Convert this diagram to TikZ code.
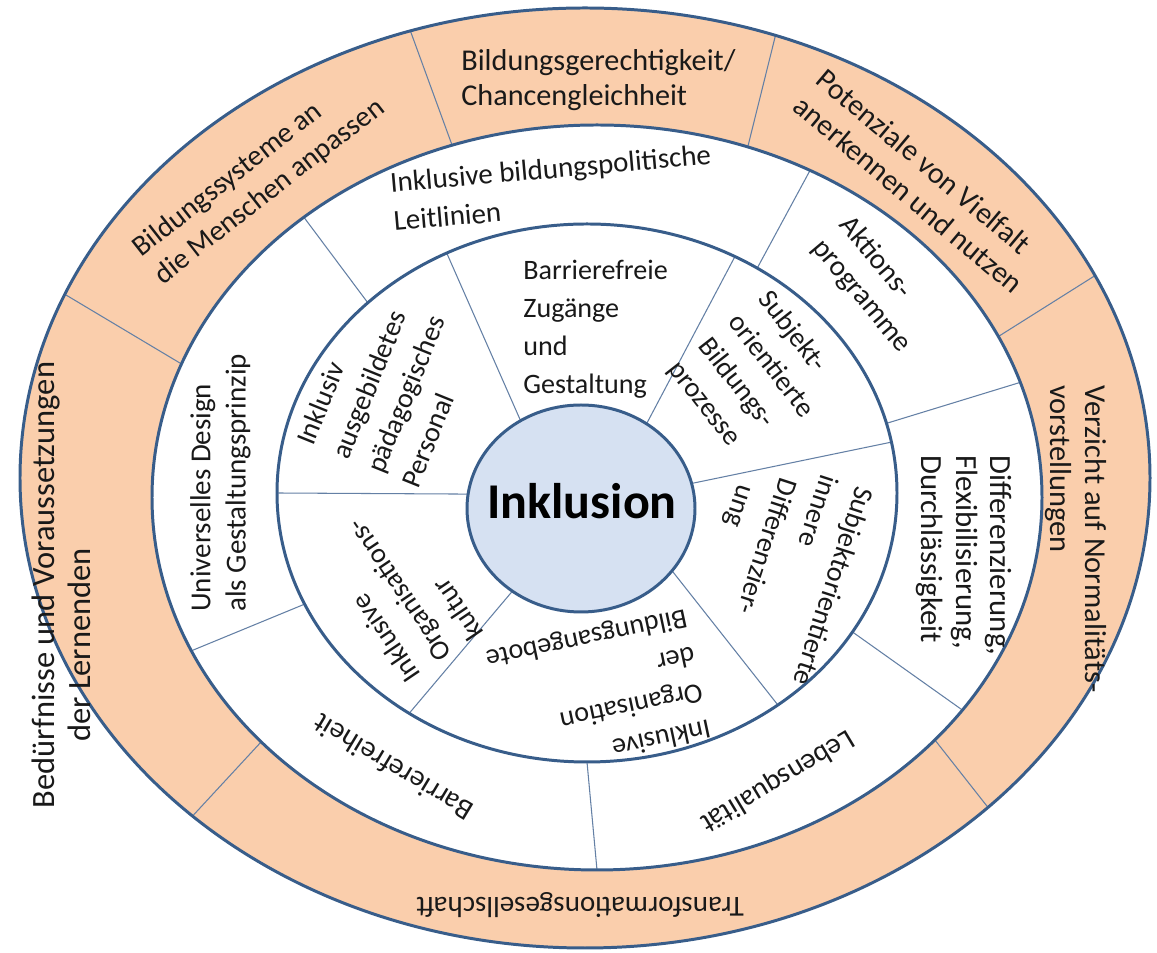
\documentclass[tikz,border=0pt]{standalone}
\usepackage{fontspec}
\setmainfont{Carlito}
\usetikzlibrary{calc}
\definecolor{peach}{RGB}{250,206,172}
\definecolor{rim}{RGB}{56,93,138}
\definecolor{spokec}{RGB}{100,128,165}
\definecolor{core}{RGB}{214,225,242}
\tikzset{
  rimline/.style={draw=rim, line width=1.7pt},
  spoke/.style={draw=spokec, line width=0.6pt},
  lbl/.style={inner sep=0pt, text=black!90, font=\fontsize{16.5}{20}\selectfont},
  inlbl/.style={lbl, font=\fontsize{16}{21.5}\selectfont},
}
\begin{document}
\begin{tikzpicture}[x=0.02cm, y=0.02cm]
	\useasboundingbox (0,0) rectangle (1157,953);
	% --- centres of the rings ---
	\coordinate (cA) at (585,475);
	\coordinate (cB) at (597,455.5);
	\coordinate (cC) at (587,460);
	\coordinate (cD) at (581,444.5);

	% --- outer ring ---
	\fill[peach] (cA) ellipse [x radius=565, y radius=470];
	\fill[white] (cB) ellipse [x radius=445, y radius=372.5];
	\foreach \a/\b in {157/159, 108/109, 70.3/70.2, 25.5/25.6, -44.5/-40.6, -134/-139}
		\draw[spoke] ($(cA)+(\a:565 and 470)$) -- ($(cB)+(\b:445 and 372.5)$);

	% --- middle ring ---
	\foreach \a/\b in {131.2/135, 61.4/56.7, 18/15, -34.8/-31.1, -90/-90, -155.7/-155.6}
		\draw[spoke] ($(cB)+(\a:445 and 372.5)$) -- ($(cC)+(\b:310 and 269)$);

	% --- inner ring ---
	\fill[core] (cD) ellipse [x radius=114, y radius=103.5];
	\foreach \a/\b in {116.9/122, 61.5/54.9, 10.9/14, -52/-37, -125/-127, 180/172}
		\draw[spoke] ($(cC)+(\a:310 and 269)$) -- ($(cD)+(\b:114 and 103.5)$);

	% --- borders ---
	\draw[rimline] (cA) ellipse [x radius=565, y radius=470];
	\draw[rimline] (cB) ellipse [x radius=445, y radius=372.5];
	\draw[rimline] (cC) ellipse [x radius=310, y radius=269];
	\draw[rimline] (cD) ellipse [x radius=114, y radius=103.5];

	% --- labels, outer ring ---
	\node[lbl, rotate=38, align=left] (sysm) at (259,775) {Bildungssysteme an\\die Menschen anpassen};
	\node[lbl, anchor=west, align=left, font=\fontsize{17.2}{20}\selectfont] (gerech) at (461,873) {Bildungsgerechtigkeit/\\Chancengleichheit};
	\node[lbl, rotate=-40, align=left, font=\fontsize{17}{20}\selectfont] (vielf) at (920,772) {Potenziale von Vielfalt\\anerkennen und nutzen};
	\node[lbl, rotate=-90, anchor=north west, align=left, font=\fontsize{17.3}{20}\selectfont] (normal) at (1107,568) {Verzicht auf Normalitäts-\\vorstellungen};
	\node[lbl, rotate=180] (transf) at (580,48) {Transformationsgesellschaft};
	\node[lbl, rotate=90, font=\fontsize{18.5}{22}\selectfont] (beduerf) at (46,368) {Bedürfnisse und Voraussetzungen};
	\node[lbl, rotate=90, font=\fontsize{18.5}{22}\selectfont] (lernend) at (79,308) {der Lernenden};

	% --- labels, middle ring ---
	\node[lbl, rotate=5, anchor=north west, align=left, font=\fontsize{16.5}{22}\selectfont] (leitl) at (389,781) {Inklusive bildungspolitische\\Leitlinien};
	\node[lbl, rotate=-50, align=left] (aktion) at (875,668) {Aktions-\\programme};
	\node[lbl, rotate=-90, anchor=north west, align=left, font=\fontsize{17.5}{19.5}\selectfont] (diffz) at (1012,498) {Differenzierung,\\Flexibilisierung,\\Durchlässigkeit};
	\node[lbl, rotate=-149] (lebqu) at (777,172) {Lebensqualität};
	\node[lbl, rotate=149] (barrf) at (393,185) {Barrierefreiheit};
	\node[lbl, rotate=90, anchor=north west, align=left] (unides) at (190,341) {Universelles Design\\als Gestaltungsprinzip};

	% --- labels, inner ring ---
	\node[inlbl, anchor=north west, align=left] (zugang) at (523,693) {Barrierefreie\\Zugänge\\und\\Gestaltung};
	\node[inlbl, rotate=68, align=left] (person) at (388,566) {Inklusiv\\ausgebildetes\\pädagogisches\\Personal};
	\node[inlbl, rotate=-52, align=left] (bildpr) at (756,575) {Subjekt-\\orientierte\\Bildungs-\\prozesse};
	\node[inlbl, rotate=-108, anchor=north west, align=left] (innere) at (876,462) {Subjektorientierte\\innere\\\hspace*{9pt}Differenzier-\\\hspace*{20pt}ung};
	\node[inlbl, rotate=192, align=left] (orgbild) at (598,260) {Inklusive\\Organisation\\der\\Bildungsangebote};
	\node[inlbl, rotate=124, align=left] (orgkult) at (399,362) {Inklusive\\Organisations-\\kultur};

	% --- core ---
	\node[font=\fontsize{28.5}{34}\selectfont\bfseries] (inkl) at (582,452) {Inklusion};
\end{tikzpicture}
\end{document}
